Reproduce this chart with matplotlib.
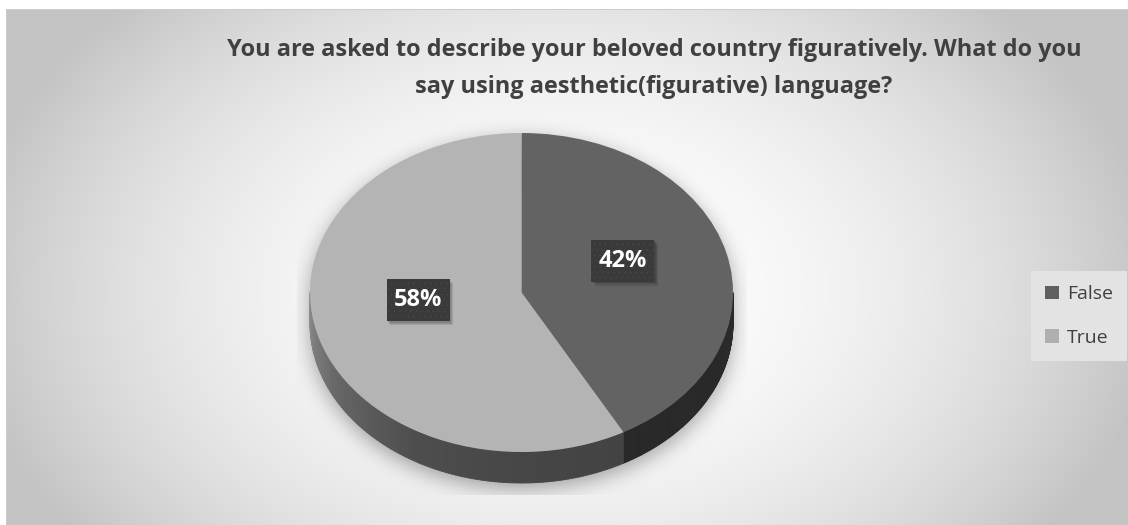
import numpy as np
import matplotlib
matplotlib.use("Agg")
import matplotlib.pyplot as plt
from matplotlib.patches import Rectangle, Patch
from matplotlib.collections import PolyCollection
from matplotlib.transforms import ScaledTranslation

# ---- data -------------------------------------------------------------
categories = ["False", "True"]
shares = [42, 58]
top_colors = ["#636363", "#b4b4b4"]
legend_colors = ["#5f5f5f", "#afafaf"]
title = ("You are asked to describe your beloved country figuratively. What do you\n"
         "say using aesthetic(figurative) language?")

# ---- layout (pixels, origin top-left) ---------------------------------
W, H, DPI = 1128, 525, 100
CX, CY, RX, RY, DEPTH = 521.5, 292.5, 211.5, 159.5, 31.0
FRAME_X, FRAME_Y = 6, 9

plt.rcParams["font.family"] = ["Open Sans", "DejaVu Sans"]
plt.rcParams["hatch.linewidth"] = 0.0

fig = plt.figure(figsize=(W / DPI, H / DPI), dpi=DPI)
fig.patch.set_facecolor("white")

# ---- background: radial grey gradient with soft shadow under the pie ---
bg_ax = fig.add_axes([0, 0, 1, 1])
bg_ax.set_xlim(0, W)
bg_ax.set_ylim(H, 0)
bg_ax.axis("off")

yy, xx = np.mgrid[0:H, 0:W] + 0.5
r = np.hypot((xx - 560) / 600, (yy - 290) / 420)
shade = 1.0 - 0.235 * np.clip(r, 0, 1) ** 2


def silhouette(dy):
    ex = ((xx - CX) / RX) ** 2
    top = ex + ((yy - CY - dy) / RY) ** 2 <= 1
    bot = ex + ((yy - CY - DEPTH - dy) / RY) ** 2 <= 1
    mid = (np.abs(xx - CX) <= RX) & (yy >= CY + dy) & (yy <= CY + DEPTH + dy)
    return (top | bot | mid).astype(float)


def blur(a, s):
    k = np.arange(-int(3 * s), int(3 * s) + 1)
    g = np.exp(-k ** 2 / (2.0 * s * s))
    g /= g.sum()
    a = np.apply_along_axis(lambda v: np.convolve(v, g, mode="same"), 0, a)
    a = np.apply_along_axis(lambda v: np.convolve(v, g, mode="same"), 1, a)
    return a


shadow = blur(silhouette(6), 10)
clip = (xx >= 297) & (xx <= 747) & (yy <= 495)
shade = shade * (1 - 0.34 * shadow * clip)

outside = (xx < FRAME_X) | (yy < FRAME_Y)
shade[outside] = 1.0
edge = ((np.abs(xx - FRAME_X - 0.5) < 1) & (yy >= FRAME_Y)) | \
       ((np.abs(yy - FRAME_Y - 0.5) < 1) & (xx >= FRAME_X))
shade[edge] = 0.80
bg_ax.imshow(np.dstack([shade] * 3), extent=(0, W, H, 0),
             interpolation="bilinear", aspect="auto")

# ---- pie axes: unit circle maps onto the top ellipse -------------------
XL, XR, YB, YT = -1.25, 1.25, -1.45, 1.25
ax = fig.add_axes([(CX + XL * RX) / W, (H - (CY - YB * RY)) / H,
                   (XR - XL) * RX / W, (YT - YB) * RY / H])
wedges, _ = ax.pie(shares, startangle=90, counterclock=False,
                   colors=top_colors, radius=1,
                   wedgeprops=dict(linewidth=0))
ax.set_aspect("auto")
ax.set_xlim(XL, XR)
ax.set_ylim(YB, YT)
ax.axis("off")
for w in wedges:
    w.set_zorder(3)

t = DEPTH / RY


def front_span(a1, a2):
    """Part of the angular range [a1, a2] lying on the front rim (-180..0)."""
    for k in (-360, 0, 360):
        lo, hi = max(a1 + k, -180), min(a2 + k, 0)
        if hi > lo:
            return lo, hi
    return None


side_shading = [
    (np.array([-180, 0]), np.array([0.14, 0.165])),
    (np.array([-180, -150, -120, -90, -60, 0]),
     np.array([0.56, 0.40, 0.305, 0.275, 0.262, 0.26])),
]

polys, cols = [], []
for w, (ang, lev) in zip(wedges, side_shading):
    span = front_span(w.theta1, w.theta2)
    if span is None:
        continue
    phis = np.linspace(span[0], span[1], 120)
    for p0, p1 in zip(phis[:-1], phis[1:]):
        a0, a1 = np.radians(p0), np.radians(p1)
        polys.append([(np.cos(a0), np.sin(a0)), (np.cos(a1), np.sin(a1)),
                      (np.cos(a1), np.sin(a1) - t), (np.cos(a0), np.sin(a0) - t)])
        g = np.interp(0.5 * (p0 + p1), ang, lev)
        cols.append((g, g, g))
ax.add_collection(PolyCollection(polys, facecolors=cols, edgecolors=cols,
                                 linewidths=0.6, zorder=2))

# ---- value labels in dotted dark boxes ---------------------------------
total = sum(shares)
for w, v in zip(wedges, shares):
    mid = np.radians(0.5 * (w.theta1 + w.theta2))
    lx, ly = 0.5 * np.cos(mid) - 0.005, 0.5 * np.sin(mid) + 0.075
    off = fig.dpi_scale_trans + ScaledTranslation(lx, ly, ax.transData)
    for i, a in enumerate([0.10, 0.10, 0.10]):
        d = 0.015 + 0.012 * i
        ax.add_patch(Rectangle((-0.315 + d, -0.21 - d), 0.63, 0.42,
                               transform=off, facecolor="black", alpha=a,
                               linewidth=0, zorder=4))
    ax.add_patch(Rectangle((-0.315, -0.21), 0.63, 0.42, transform=off,
                           facecolor="#3a3a3a", edgecolor="#565656",
                           hatch="...", linewidth=0, zorder=5))
    ax.text(lx, ly, f"{v / total * 100:.0f}%", ha="center", va="center",
            color="white", fontsize=17, fontweight="bold", zorder=6)

# ---- title --------------------------------------------------------------
fig.text(654 / W, 1 - 68.5 / H, title, ha="center", va="center",
         fontsize=16.9, fontweight="bold", color="#404040", linespacing=1.72)

# ---- legend -------------------------------------------------------------
handles = [Patch(facecolor=c, edgecolor="none", label=l)
           for c, l in zip(legend_colors, categories)]
leg = fig.legend(handles=handles, loc="center left",
                 bbox_to_anchor=(1021 / W, 1 - 316 / H), fontsize=14,
                 frameon=True, fancybox=False, facecolor="#e3e3e3",
                 edgecolor="none", framealpha=1, handlelength=0.7,
                 handleheight=0.7, handletextpad=0.4, labelspacing=1.3,
                 borderpad=0.75, labelcolor="#404040")

fig.savefig("out.png", dpi=DPI)
